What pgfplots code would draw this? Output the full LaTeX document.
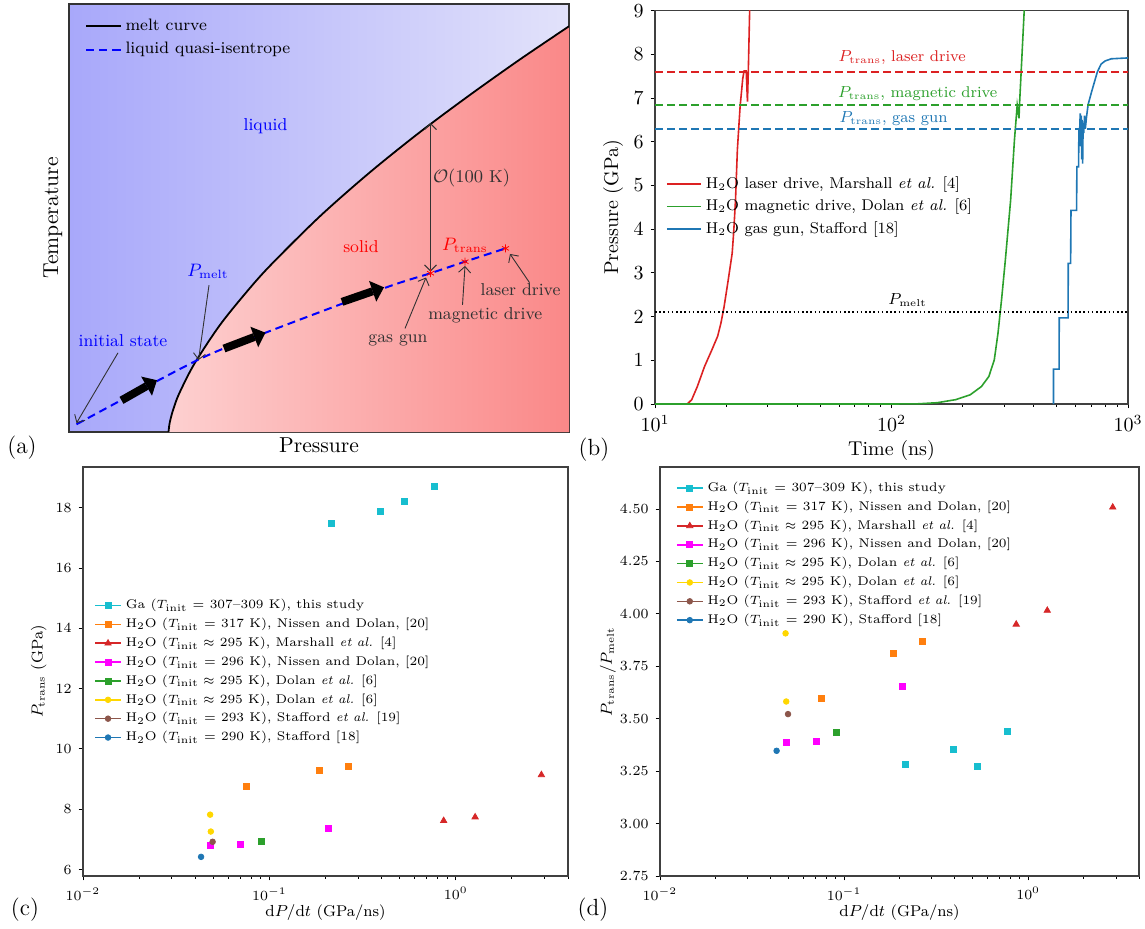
\documentclass[border=0pt]{standalone}
\usepackage{pgfplots}
\pgfplotsset{compat=1.18}
\usepackage{amsmath}
\usetikzlibrary{arrows.meta}
\definecolor{tabblue}{HTML}{1F77B4}
\definecolor{taborange}{HTML}{FF7F0E}
\definecolor{tabgreen}{HTML}{2CA02C}
\definecolor{tabred}{HTML}{D62728}
\definecolor{tabbrown}{HTML}{8C564B}
\definecolor{tabcyan}{HTML}{17BECF}
\definecolor{mplmag}{HTML}{FF00FF}
\definecolor{gold}{HTML}{FFD700}
\definecolor{bgL}{RGB}{168,168,250}
\definecolor{bgR}{RGB}{226,226,250}
\definecolor{redL}{RGB}{253,208,208}
\definecolor{redR}{RGB}{250,136,136}
\definecolor{annot}{RGB}{50,50,50}
\pgfplotsset{
  mpl/.style={scale only axis, axis line style={black!75, line width=0.6pt},
    tick align=outside, tick pos=left, major tick length=2.2pt, minor tick length=1.3pt,
    every tick/.style={black, line width=0.45pt}},
  scatleg/.style={legend image code/.code={\draw[##1, line width=0.8pt] (0pt,0pt) -- (13pt,0pt); \draw[##1] plot coordinates {(6.5pt,0pt)};}},
  xlab/.style={xlabel style={at={(axis description cs:0.5,#1)}, anchor=center}},
  ylab/.style={ylabel style={at={(axis description cs:#1,0.5)}, anchor=center, rotate=0}},
}
\begin{document}
\begin{tikzpicture}
\path[use as bounding box] (0pt,0pt) rectangle (572.5pt,-464pt);

% ---------------- (a) ----------------
\begin{axis}[scale only axis, width=250pt, height=214pt, at={(34.5pt,-216pt)}, anchor=south west,
  xmin=0, xmax=1, ymin=0, ymax=1, xtick=\empty, ytick=\empty,
  axis line style={black!80, line width=0.6pt},
  axis background/.style={left color=bgL, right color=bgR},
  xlabel={Pressure}, ylabel={Temperature},
  label style={font=\fontsize{10.8}{12}\selectfont},
  xlab=-0.030, ylab=-0.032,
  legend style={at={(0.02,0.985)}, anchor=north west, draw=none, fill=none, font=\fontsize{8.3}{10}\selectfont, row sep=0.5pt},
  legend cell align=left]
\addplot[draw=none, left color=redL, right color=redR, forget plot] coordinates {
(0.199,0) (0.201,0.019) (0.205,0.039) (0.21,0.058) (0.22,0.089) (0.25,0.158) (0.3,0.247) (0.35,0.32) (0.4,0.386) (0.5,0.502) (0.6,0.605) (0.7,0.699) (0.8,0.786) (0.9,0.869) (1.0,0.948) (1.0,0)};
\addplot[black, line width=0.9pt, smooth] coordinates {
(0.199,0) (0.201,0.019) (0.205,0.039) (0.21,0.058) (0.22,0.089) (0.25,0.158) (0.3,0.247) (0.35,0.32) (0.4,0.386) (0.5,0.502) (0.6,0.605) (0.7,0.699) (0.8,0.786) (0.9,0.869) (1.0,0.948)};
\addlegendentry{melt curve}
\addplot[blue, line width=1pt, dash pattern=on 4pt off 2.5pt, smooth] coordinates {
(0.015,0.018) (0.257,0.168) (0.393,0.232) (0.63,0.336) (0.723,0.371) (0.792,0.398) (0.873,0.429)};
\addlegendentry{liquid quasi-isentrope}
\addplot[only marks, mark=asterisk, red, mark size=2pt, forget plot] coordinates {(0.723,0.371) (0.792,0.398) (0.873,0.429)};
% thick arrows
\draw[line width=4pt, -{Triangle[length=6pt, width=11pt, line width=0pt]}] (axis cs:0.105,0.074) -- (axis cs:0.176,0.121);
\draw[line width=4pt, -{Triangle[length=6pt, width=11pt, line width=0pt]}] (axis cs:0.31,0.195) -- (axis cs:0.393,0.232);
\draw[line width=4pt, -{Triangle[length=6pt, width=11pt, line width=0pt]}] (axis cs:0.546,0.304) -- (axis cs:0.63,0.338);
% thin arrows
\draw[annot, line width=0.45pt, -{Straight Barb[length=3pt]}] (axis cs:0.098,0.185) -- (axis cs:0.015,0.021);
\draw[annot, line width=0.45pt, -{Straight Barb[length=3pt]}] (axis cs:0.280,0.343) -- (axis cs:0.259,0.168);
\draw[annot, line width=0.45pt, {Straight Barb[length=3pt]}-{Straight Barb[length=3pt]}] (axis cs:0.723,0.722) -- (axis cs:0.723,0.375);
\draw[annot, line width=0.45pt, -{Straight Barb[length=3pt]}] (axis cs:0.672,0.242) -- (axis cs:0.714,0.361);
\draw[annot, line width=0.45pt, -{Straight Barb[length=3pt]}] (axis cs:0.787,0.297) -- (axis cs:0.792,0.388);
\draw[annot, line width=0.45pt, -{Straight Barb[length=3pt]}] (axis cs:0.921,0.349) -- (axis cs:0.882,0.416);
\begin{scope}[font=\fontsize{8.6}{10}\selectfont]
\node[blue] at (axis cs:0.108,0.213) {initial state};
\node[blue] at (axis cs:0.278,0.375) {$P_\mathrm{melt}$};
\node[blue] at (axis cs:0.393,0.714) {liquid};
\node[red] at (axis cs:0.584,0.433) {solid};
\node[red] at (axis cs:0.792,0.437) {$P_\mathrm{trans}$};
\node[annot] at (axis cs:0.805,0.593) {$\mathcal{O}(100\text{ K})$};
\node[annot] at (axis cs:0.658,0.213) {gas gun};
\node[annot] at (axis cs:0.8325,0.273) {magnetic drive};
\node[annot] at (axis cs:0.903,0.333) {laser drive};
\end{scope}
\end{axis}

% ---------------- (b) ----------------
\begin{axis}[mpl, width=236.5pt, height=196.65pt, at={(327.5pt,-202pt)}, anchor=south west,
  xmode=log, xmin=10, xmax=1000, ymin=0, ymax=9, ytick={0,1,...,9},
  xlabel={Time (ns)}, ylabel={Pressure (GPa)},
  tick label style={font=\fontsize{9.6}{11}\selectfont},
  label style={font=\fontsize{10}{12}\selectfont},
  xlab=-0.119, ylab=-0.0888,
  legend style={at={(0.01,0.6)}, anchor=north west, draw=none, fill=none, font=\fontsize{7.8}{9}\selectfont},
  legend cell align=left]
\addplot[tabred!85!red, line width=0.8pt] coordinates {
(10,0) (13.7,0) (14.3,0.1) (15.1,0.4) (16.2,0.86) (17.4,1.24) (18.4,1.55) (19.0,1.85) (19.6,2.23) (20.4,2.84) (21.2,3.45) (21.5,3.91) (21.9,4.67) (22.3,5.82) (22.9,6.81) (23.5,7.45) (23.8,7.62) (24.3,7.62) (24.6,6.92) (24.8,7.6) (25.2,9.3)};
\addlegendentry{H$_2$O laser drive, Marshall \textit{et al.} [4]}
\addplot[tabgreen, line width=0.8pt] coordinates {
(10,0) (100,0) (130,0.005) (156,0.03) (187,0.1) (215,0.21) (240,0.4) (258,0.63) (272,1.01) (282,1.62) (292,2.39) (303,3.3) (319,4.67) (331,6.04) (340,6.84) (346,6.54) (348,6.88) (364,9.0) (368,9.3)};
\addlegendentry{H$_2$O magnetic drive, Dolan \textit{et al.} [6]}
\addplot[tabblue, line width=0.8pt] coordinates {
(484,0) (484,0.8) (511,0.8) (512,1.97) (558,1.97) (559,3.22) (572,3.22) (574,4.43) (606,4.43) (608,5.43) (618,5.43) (620,6.27) (625,6.3) (628,6.65) (631,5.9) (634,6.6) (637,5.6) (640,6.5) (643,5.5) (646,6.4) (650,6.2) (655,6.6) (660,6.3) (667,6.55) (678,6.85) (702,7.15) (742,7.6) (770,7.78) (800,7.85) (850,7.9) (1000,7.92)};
\addlegendentry{H$_2$O gas gun, Stafford [18]}
\addplot[tabred!85!red, line width=0.9pt, dash pattern=on 4pt off 2pt, forget plot] coordinates {(10,7.6) (1000,7.6)};
\addplot[tabgreen, line width=0.9pt, dash pattern=on 4pt off 2pt, forget plot] coordinates {(10,6.85) (1000,6.85)};
\addplot[tabblue, line width=0.9pt, dash pattern=on 4pt off 2pt, forget plot] coordinates {(10,6.3) (1000,6.3)};
\addplot[black, line width=0.8pt, dash pattern=on 0.8pt off 1.3pt, forget plot] coordinates {(10,2.1) (1000,2.1)};
\begin{scope}[font=\fontsize{7.8}{9}\selectfont]
\node[tabred!85!red] at (axis cs:111,7.93) {$P_\mathrm{trans}$, laser drive};
\node[tabgreen] at (axis cs:129,7.1) {$P_\mathrm{trans}$, magnetic drive};
\node[tabblue] at (axis cs:102,6.54) {$P_\mathrm{trans}$, gas gun};
\node[black] at (axis cs:117,2.37) {$P_\mathrm{melt}$};
\end{scope}
\end{axis}

% ---------------- (c) ----------------
\begin{axis}[mpl, scatleg, width=242.5pt, height=204.5pt, at={(41.5pt,-438pt)}, anchor=south west,
  xmode=log, xmin=0.01, xmax=4, ymin=5.785, ymax=19.35, ytick={6,8,...,18},
  xlabel={$\mathrm{d}P/\mathrm{d}t$ (GPa/ns)}, ylabel={$P_\mathrm{trans}$ (GPa)},
  tick label style={font=\fontsize{7.2}{8}\selectfont},
  label style={font=\fontsize{7.8}{9}\selectfont},
  xlab=-0.090, ylab=-0.0915,
  legend style={at={(0.01,0.695)}, anchor=north west, draw=none, fill=none, font=\fontsize{6.3}{7.5}\selectfont, nodes={inner ysep=1.6pt}},
  legend cell align=left]
\addplot[tabcyan, only marks, mark=square*, mark size=1.5pt] coordinates {(0.216,17.48) (0.394,17.87) (0.533,18.22) (0.769,18.72)};
\addlegendentry{Ga ($T_\mathrm{init}$ = 307--309 K), this study}
\addplot[taborange, only marks, mark=square*, mark size=1.5pt] coordinates {(0.0755,8.76) (0.186,9.28) (0.265,9.42)};
\addlegendentry{H$_2$O ($T_\mathrm{init}$ = 317 K), Nissen and Dolan, [20]}
\addplot[tabred, only marks, mark=triangle*, mark size=1.8pt] coordinates {(0.861,7.62) (1.27,7.74) (2.88,9.14)};
\addlegendentry{H$_2$O ($T_\mathrm{init}\approx$ 295 K), Marshall \textit{et al.} [4]}
\addplot[mplmag, only marks, mark=square*, mark size=1.5pt] coordinates {(0.0483,6.81) (0.0703,6.84) (0.208,7.36)};
\addlegendentry{H$_2$O ($T_\mathrm{init}$ = 296 K), Nissen and Dolan, [20]}
\addplot[tabgreen, only marks, mark=square*, mark size=1.5pt] coordinates {(0.0906,6.93)};
\addlegendentry{H$_2$O ($T_\mathrm{init}\approx$ 295 K), Dolan \textit{et al.} [6]}
\addplot[gold, only marks, mark=*, mark size=1.4pt] coordinates {(0.0481,7.82) (0.0485,7.26)};
\addlegendentry{H$_2$O ($T_\mathrm{init}\approx$ 295 K), Dolan \textit{et al.} [6]}
\addplot[tabbrown, only marks, mark=*, mark size=1.4pt] coordinates {(0.0496,6.92)};
\addlegendentry{H$_2$O ($T_\mathrm{init}$ = 293 K), Stafford \textit{et al.} [19]}
\addplot[tabblue, only marks, mark=*, mark size=1.4pt] coordinates {(0.043,6.42)};
\addlegendentry{H$_2$O ($T_\mathrm{init}$ = 290 K), Stafford [18]}
\end{axis}

% ---------------- (d) ----------------
\begin{axis}[mpl, scatleg, width=239.5pt, height=204.5pt, at={(330pt,-438pt)}, anchor=south west,
  xmode=log, xmin=0.01, xmax=4, ymin=2.75, ymax=4.70, ytick={2.75,3.00,...,4.50},
  yticklabel style={/pgf/number format/.cd, fixed, fixed zerofill, precision=2},
  xlabel={$\mathrm{d}P/\mathrm{d}t$ (GPa/ns)}, ylabel={$P_\mathrm{trans}/P_\mathrm{melt}$},
  tick label style={font=\fontsize{7.2}{8}\selectfont},
  label style={font=\fontsize{7.8}{9}\selectfont},
  xlab=-0.090, ylab=-0.1086,
  legend style={at={(0.02,0.982)}, anchor=north west, draw=none, fill=none, font=\fontsize{6.3}{7.5}\selectfont, nodes={inner ysep=1.6pt}},
  legend cell align=left]
\addplot[tabcyan, only marks, mark=square*, mark size=1.5pt] coordinates {(0.216,3.283) (0.394,3.355) (0.533,3.273) (0.769,3.439)};
\addlegendentry{Ga ($T_\mathrm{init}$ = 307--309 K), this study}
\addplot[taborange, only marks, mark=square*, mark size=1.5pt] coordinates {(0.0755,3.596) (0.186,3.81) (0.265,3.868)};
\addlegendentry{H$_2$O ($T_\mathrm{init}$ = 317 K), Nissen and Dolan, [20]}
\addplot[tabred, only marks, mark=triangle*, mark size=1.8pt] coordinates {(0.861,3.95) (1.27,4.016) (2.88,4.508)};
\addlegendentry{H$_2$O ($T_\mathrm{init}\approx$ 295 K), Marshall \textit{et al.} [4]}
\addplot[mplmag, only marks, mark=square*, mark size=1.5pt] coordinates {(0.0483,3.385) (0.0703,3.394) (0.208,3.652)};
\addlegendentry{H$_2$O ($T_\mathrm{init}$ = 296 K), Nissen and Dolan, [20]}
\addplot[tabgreen, only marks, mark=square*, mark size=1.5pt] coordinates {(0.0906,3.437)};
\addlegendentry{H$_2$O ($T_\mathrm{init}\approx$ 295 K), Dolan \textit{et al.} [6]}
\addplot[gold, only marks, mark=*, mark size=1.4pt] coordinates {(0.0481,3.907) (0.0485,3.582)};
\addlegendentry{H$_2$O ($T_\mathrm{init}\approx$ 295 K), Dolan \textit{et al.} [6]}
\addplot[tabbrown, only marks, mark=*, mark size=1.4pt] coordinates {(0.0496,3.522)};
\addlegendentry{H$_2$O ($T_\mathrm{init}$ = 293 K), Stafford \textit{et al.} [19]}
\addplot[tabblue, only marks, mark=*, mark size=1.4pt] coordinates {(0.043,3.347)};
\addlegendentry{H$_2$O ($T_\mathrm{init}$ = 290 K), Stafford [18]}
\end{axis}

% panel labels
\begin{scope}[font=\fontsize{11.7}{13}\selectfont]
\node at (11pt,-224pt) {(a)};
\node at (297pt,-225pt) {(b)};
\node at (12.5pt,-455pt) {(c)};
\node at (296.5pt,-455pt) {(d)};
\end{scope}
\end{tikzpicture}
\end{document}
